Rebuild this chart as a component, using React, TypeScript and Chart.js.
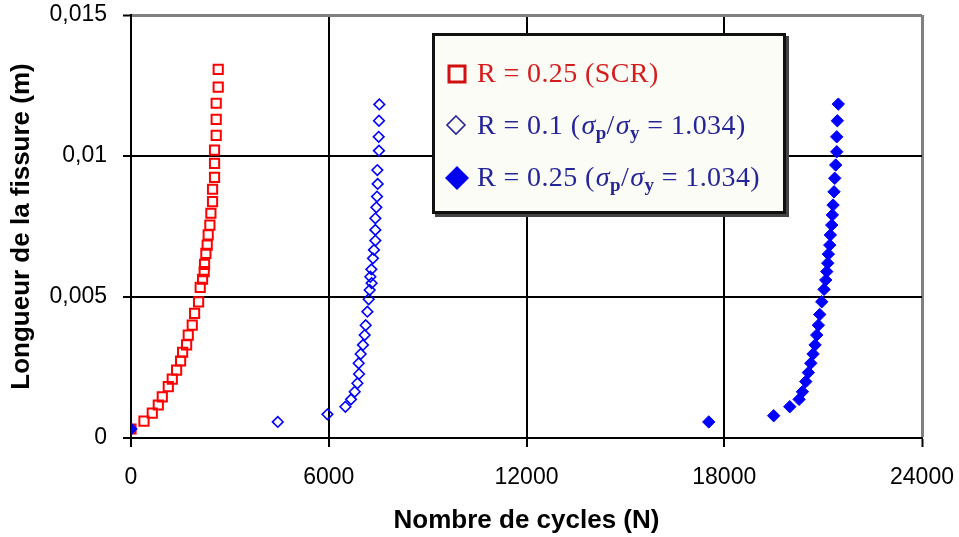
import React, { useEffect, useRef } from 'react';
import { Chart, registerables } from 'chart.js';

Chart.register(...registerables);

// R = 0.25 (SCR)
const scrCycles = [0, 394, 646, 828, 949, 1131, 1252, 1384, 1505, 1566, 1687, 1737, 1858, 1929, 2050, 2100, 2171, 2221, 2232, 2272, 2312, 2342, 2393, 2424, 2474, 2474, 2535, 2535, 2535, 2585, 2585, 2585, 2646, 2646];
const scrLength = [0.00032, 0.0006, 0.00088, 0.00117, 0.00146, 0.00182, 0.00209, 0.00241, 0.00273, 0.00304, 0.0033, 0.00365, 0.004, 0.00442, 0.00483, 0.00534, 0.00563, 0.0059, 0.00616, 0.00655, 0.00684, 0.0072, 0.00755, 0.00797, 0.00838, 0.00882, 0.00924, 0.00974, 0.01021, 0.01073, 0.0113, 0.01187, 0.01244, 0.01307];

// R = 0.1 (sigma_p/sigma_y = 1.034)
const r01Cycles = [0, 4454, 5960, 6505, 6676, 6787, 6869, 6918, 6908, 6969, 7039, 7090, 7120, 7172, 7211, 7242, 7302, 7262, 7293, 7342, 7373, 7414, 7414, 7414, 7444, 7464, 7485, 7474, 7524, 7515, 7524, 7535];
const r01Length = [0.00032, 0.00057, 0.00084, 0.00111, 0.00137, 0.00164, 0.00194, 0.00227, 0.00265, 0.00298, 0.0033, 0.00365, 0.004, 0.00448, 0.00492, 0.00525, 0.00549, 0.00572, 0.00598, 0.00637, 0.00667, 0.007, 0.00738, 0.00779, 0.00818, 0.00856, 0.00901, 0.0095, 0.01019, 0.01068, 0.01125, 0.01183];

// R = 0.25 (sigma_p/sigma_y = 1.034)
const r025Cycles = [0, 17530, 19500, 19988, 20271, 20371, 20473, 20552, 20625, 20695, 20756, 20806, 20855, 20897, 20958, 21028, 21080, 21110, 21140, 21158, 21201, 21219, 21261, 21280, 21301, 21331, 21352, 21382, 21413, 21413, 21431, 21461];
const r025Length = [0.00032, 0.00057, 0.00079, 0.00111, 0.00137, 0.00164, 0.002, 0.00232, 0.00265, 0.00298, 0.0033, 0.00365, 0.004, 0.00438, 0.00483, 0.00527, 0.0056, 0.0059, 0.0062, 0.00652, 0.00684, 0.0072, 0.00755, 0.00791, 0.00826, 0.00873, 0.00921, 0.00968, 0.01015, 0.01068, 0.01125, 0.01184];

const xTicks = [0, 6000, 12000, 18000, 24000];
const xTickLabels = ['0', '6000', '12000', '18000', '24000'];
const yTicks = [0, 0.005, 0.01, 0.015];
const yTickLabels = ['0', '0,005', '0,01', '0,015'];

const xTitle = 'Nombre de cycles (N)';
const yTitle = 'Longueur de la fissure (m)';

const zip = (xs: number[], ys: number[]) => xs.map((x, i) => ({ x, y: ys[i] }));

const SANS = '"Liberation Sans", Arial, sans-serif';
const SERIF = '"Liberation Serif", "Times New Roman", serif';

export default function App() {
  const canvasRef = useRef<HTMLCanvasElement | null>(null);

  useEffect(() => {
    document.body.style.margin = '0';
    const canvas = canvasRef.current;
    if (!canvas) return;
    const chart = new Chart(canvas, {
      type: 'scatter',
      data: {
        datasets: [
          {
            label: 'R = 0.25 (SCR)',
            data: zip(scrCycles, scrLength),
            pointStyle: 'rect',
            pointRadius: 6.5,
            borderWidth: 2,
            borderColor: '#ff0000',
            backgroundColor: 'rgba(255,255,255,0)',
            order: 3,
          },
          {
            label: 'R = 0.1',
            data: zip(r01Cycles, r01Length),
            pointStyle: 'rectRot',
            pointRadius: 5.3,
            borderWidth: 1.6,
            borderColor: '#0000ff',
            backgroundColor: 'rgba(255,255,255,0)',
            order: 2,
          },
          {
            label: 'R = 0.25',
            data: zip(r025Cycles, r025Length),
            pointStyle: 'rectRot',
            pointRadius: 6.2,
            borderWidth: 1,
            borderColor: '#0000ff',
            backgroundColor: '#0000ff',
            order: 1,
          },
        ],
      },
      options: {
        animation: false,
        responsive: false,
        layout: { padding: { top: 15, right: 37, left: 0, bottom: 0 } },
        plugins: { legend: { display: false }, tooltip: { enabled: false } },
        scales: {
          x: {
            type: 'linear',
            min: 0,
            max: 24000,
            afterBuildTicks: (s: any) => { s.ticks = xTicks.map((v) => ({ value: v })); },
            afterFit: (s: any) => { s.height = 99; s.paddingLeft = 0; s.paddingRight = 0; },
            ticks: {
              padding: 17,
              color: '#000',
              font: { family: SANS, size: 23 },
              maxRotation: 0,
              callback: (v: any) => { const i = xTicks.indexOf(Number(v)); return i >= 0 ? xTickLabels[i] : ''; },
            },
            grid: {
              color: (c: any) => (c.tick && c.tick.value === 24000 ? '#808080' : '#000'),
              lineWidth: (c: any) => (c.tick && c.tick.value === 24000 ? 3 : 2),
              tickColor: '#000',
              tickWidth: 2,
              tickLength: 9,
            },
            border: { color: '#000', width: 2 },
            title: {
              display: true,
              text: xTitle,
              color: '#000',
              font: { family: SANS, size: 26, weight: 'bold' },
              padding: { top: 0, bottom: 1 },
            },
          },
          y: {
            type: 'linear',
            min: 0,
            max: 0.015,
            afterBuildTicks: (s: any) => { s.ticks = yTicks.map((v) => ({ value: v })); },
            afterFit: (s: any) => { s.width = 131; s.paddingTop = 0; s.paddingBottom = 0; },
            ticks: {
              padding: 16,
              color: '#000',
              font: { family: SANS, size: 23 },
              callback: (v: any) => {
                const i = yTicks.findIndex((t) => Math.abs(t - Number(v)) < 1e-9);
                return i >= 0 ? yTickLabels[i] : '';
              },
            },
            grid: {
              color: (c: any) => (c.tick && Math.abs(c.tick.value - 0.015) < 1e-9 ? '#808080' : '#000'),
              lineWidth: (c: any) => (c.tick && Math.abs(c.tick.value - 0.015) < 1e-9 ? 3 : 2),
              tickColor: '#000',
              tickWidth: 2,
              tickLength: 8,
            },
            border: { color: '#000', width: 2 },
            title: {
              display: true,
              text: yTitle,
              color: '#000',
              font: { family: SANS, size: 26, weight: 'bold' },
              padding: { top: 6, bottom: 0 },
            },
          },
        },
      } as any,
    });
    return () => chart.destroy();
  }, []);

  const blue = '#25259a';
  const red = '#d41c1c';
  const rowText: React.CSSProperties = {
    position: 'absolute',
    left: 42,
    height: 30,
    lineHeight: '30px',
    fontFamily: SERIF,
    fontSize: 28,
    letterSpacing: '0.4px',
    whiteSpace: 'nowrap',
  };
  const sub: React.CSSProperties = { fontSize: 19, fontWeight: 'bold', verticalAlign: '-5px', lineHeight: 0 };
  const sig: React.CSSProperties = { fontStyle: 'italic', marginLeft: 1 };

  return (
    <div style={{ position: 'relative', width: 959, height: 537, background: '#fff' }}>
      <canvas ref={canvasRef} width={959} height={537} style={{ display: 'block' }} />
      <div
        style={{
          position: 'absolute',
          left: 432,
          top: 33,
          width: 348,
          height: 175,
          border: '3px solid #111',
          boxShadow: '3px 3px 0 #444',
          background: '#fcfcf6',
        }}
      >
        <svg style={{ position: 'absolute', left: 12, top: 28 }} width={20} height={20}>
          <rect x={2} y={2} width={16} height={16} fill="none" stroke="#d01010" strokeWidth={3} />
        </svg>
        <div style={{ ...rowText, top: 22, color: red }}>R = 0.25 (SCR)</div>

        <svg style={{ position: 'absolute', left: 10, top: 78 }} width={22} height={22}>
          <polygon points="11,2 20,11 11,20 2,11" fill="none" stroke={blue} strokeWidth={1.6} />
        </svg>
        <div style={{ ...rowText, top: 74, color: blue }}>
          R = 0.1 (<span style={sig}>σ</span><span style={sub}>p</span>/<span style={sig}>σ</span><span style={sub}>y</span> = 1.034)
        </div>

        <svg style={{ position: 'absolute', left: 9, top: 129 }} width={26} height={26}>
          <polygon points="13,1 25,13 13,25 1,13" fill="#0000ee" />
        </svg>
        <div style={{ ...rowText, top: 126, color: blue }}>
          R = 0.25 (<span style={sig}>σ</span><span style={sub}>p</span>/<span style={sig}>σ</span><span style={sub}>y</span> = 1.034)
        </div>
      </div>
    </div>
  );
}
